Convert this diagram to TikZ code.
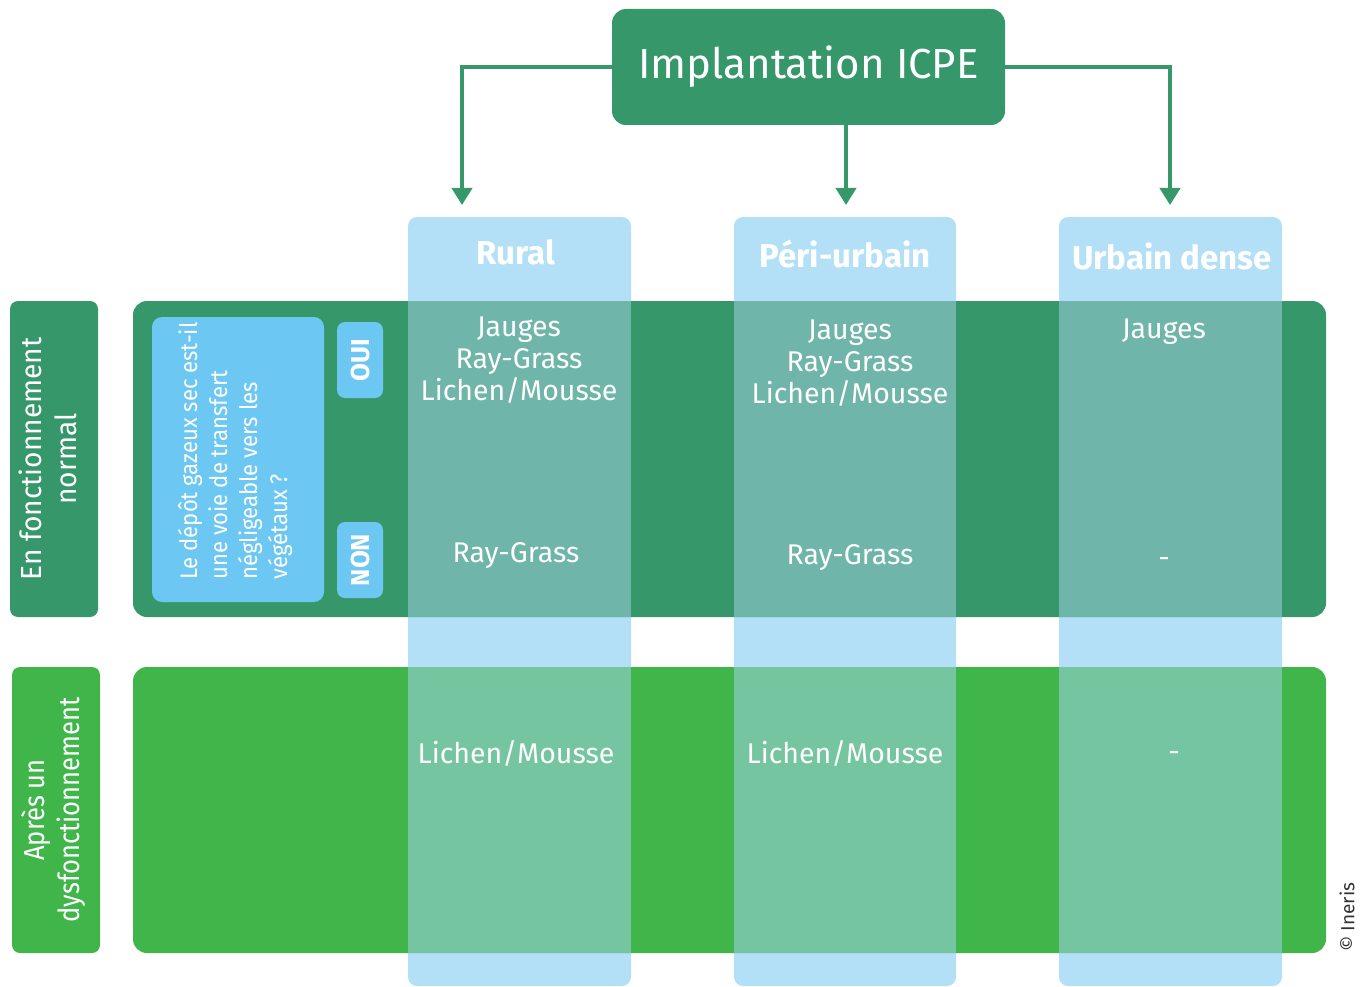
\documentclass[tikz,border=0pt]{standalone}
\usepackage{fontspec}
\setmainfont{Fira Sans}
\usepackage{graphicx}
\usetikzlibrary{arrows.meta}

\definecolor{dkgreen}{HTML}{36976B}
\definecolor{ltgreen}{HTML}{3FB54A}
\definecolor{colblue}{HTML}{B3E0F7}
\definecolor{tealov}{HTML}{6FB5AA}
\definecolor{greenov}{HTML}{75C6A0}
\definecolor{qblue}{HTML}{6CC7F2}
\definecolor{copy}{HTML}{333333}

\tikzset{
  titlebox/.style={fill=dkgreen, rounded corners=14pt, minimum width=393pt, minimum height=116pt,
    text=white, font=\fontsize{42}{48}\selectfont, inner sep=0pt},
  rowlabel/.style={rounded corners=8pt, minimum width=88pt, inner sep=0pt},
  rowtext/.style={text=white, rotate=90, align=center, font=\fontsize{29}{35}\selectfont, inner sep=0pt},
  qbox/.style={fill=qblue, rounded corners=10pt, minimum width=172pt, minimum height=285pt, inner sep=0pt},
  ynbox/.style={fill=qblue, rounded corners=8pt, minimum width=46pt, minimum height=76pt, inner sep=0pt,
    text=white, font=\bfseries\fontsize{26}{29}\selectfont},
  header/.style={text=white, font=\bfseries\fontsize{33}{38}\selectfont, inner sep=0pt},
  cell/.style={text=white, align=center, font=\fontsize{28.5}{32}\selectfont, inner sep=0pt},
  link/.style={draw=dkgreen, line width=4pt, -{Triangle[width=20pt,length=17pt]}},
}

\begin{document}
\begin{tikzpicture}[x=1pt,y=-1pt]
\useasboundingbox (0,0) rectangle (1367,987);

% column strips
\foreach \xa/\xb in {408/631, 734/956, 1059/1282}
  \fill[colblue, rounded corners=9pt] (\xa,217) rectangle (\xb,986);

% row bands
\fill[dkgreen, rounded corners=14pt] (133,301) rectangle (1326,617);
\fill[ltgreen, rounded corners=14pt] (133,667) rectangle (1326,953);

% column / band overlaps
\foreach \xa/\xb in {408/631, 734/956, 1059/1282}{
  \fill[tealov] (\xa,301) rectangle (\xb,617);
  \fill[greenov] (\xa,667) rectangle (\xb,953);
}

% title and links
\node[titlebox] (title) at (808.5,67) {Implantation ICPE};
\coordinate (tipR) at (462,205);
\coordinate (tipP) at (846,205);
\coordinate (tipU) at (1170,205);
\draw[link] (title.west) -| (tipR);
\draw[link] (title.south -| tipP) -- (tipP);
\draw[link] (title.east) -| (tipU);

% column headers
\node[header] (hR) at (516,252) {Rural};
\node[header] (hP) at (845,254) {Péri-urbain};
\node[header] (hU) at (1172,256) {Urbain dense};

% row labels
\node[rowlabel, fill=dkgreen, minimum height=316pt] (lab1) at (54,459) {};
\node[rowtext] (lab1t) at (52,459) {\scalebox{0.97}[1]{\begin{tabular}{@{}c@{}}En fonctionnement\\normal\end{tabular}}};
\node[rowlabel, fill=ltgreen, minimum height=286pt] (lab2) at (56,810) {};
\node[rowtext] (lab2t) at (55,810) {\scalebox{0.88}[1]{\begin{tabular}{@{}c@{}}Après un\\dysfonctionnement\end{tabular}}};

% question
\node[qbox] (q) at (238,459.5) {};
\node[text=white, rotate=90, inner sep=0pt, font=\fontsize{24}{30}\selectfont] (qt) at (236,451)
  {\scalebox{0.92}[1]{\begin{tabular}{@{}l@{}}Le dépôt gazeux sec est-il\\une voie de transfert\\négligeable vers les\\végétaux ?\end{tabular}}};
\node[ynbox] (oui) at (360,360) {\rotatebox{90}{OUI}};
\node[ynbox] (non) at (360,560) {\rotatebox{90}{NON}};

% cells, normal operation
\node[cell] (c1r) at (519,360) {Jauges\\Ray-Grass\\Lichen/Mousse};
\node[cell] (c1p) at (850,363) {Jauges\\Ray-Grass\\Lichen/Mousse};
\node[cell] (c1u) at (1164,332) {Jauges};
\node[cell] (c2r) at (516,556) {Ray-Grass};
\node[cell] (c2p) at (850,558) {Ray-Grass};
\node[cell] (c2u) at (1164,562) {-};

% cells, after malfunction
\node[cell] (c3r) at (516,753) {Lichen/Mousse};
\node[cell] (c3p) at (845,753) {Lichen/Mousse};
\node[cell] (c3u) at (1174,756) {-};

% credit
\node[text=copy, rotate=90, inner sep=0pt, font=\fontsize{19}{22}\selectfont] (credit) at (1347,917) {© Ineris};
\end{tikzpicture}
\end{document}
